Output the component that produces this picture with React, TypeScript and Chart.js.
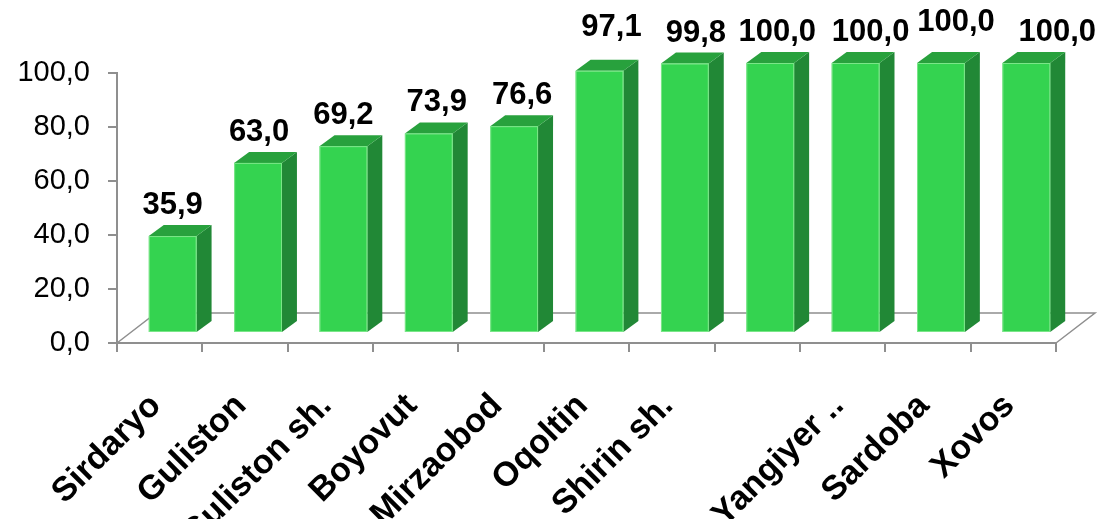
import React, { useEffect, useRef } from 'react';
import { Chart, registerables } from 'chart.js';

Chart.register(...registerables);

// ---- data ----
const categories = ['Sirdaryo', 'Guliston', 'Guliston sh.', 'Boyovut', 'Mirzaobod', 'Oqoltin', 'Shirin sh.', '', 'Yangiyer ..', 'Sardoba', 'Xovos'];
const values = [35.9, 63.0, 69.2, 73.9, 76.6, 97.1, 99.8, 100.0, 100.0, 100.0, 100.0];
const yTickValues = [0, 20, 40, 60, 80, 100];

// ---- style (3D look + label tweaks) ----
const FRONT_DX = 13; // bar front plane shift into depth
const FRONT_DY = 10;
const BAR_DX = 15; // bar depth
const BAR_DY = 11;
const FLOOR_DX = 39; // floor depth
const FLOOR_DY = 30;
const labelDx = [0, 1, 0, 8, 8, 12, 11, 7, 15, 15, 31];
const labelRaise = [0, 0, 0, 0, 0, 13, 0, 0, 0, 10, 0];

const AXIS_COLOR = '#8f8f8f';
const FRONT_COLOR = '#34d350';
const TOP_COLOR = '#28a13d';
const SIDE_COLOR = '#218836';
const FONT = '"Liberation Sans", Arial, sans-serif';

const fmt = (v: number) => v.toFixed(1).replace('.', ',');

const threeDPlugin = {
  id: 'threeD',
  beforeDatasetsDraw(chart: any) {
    const { ctx, chartArea } = chart;
    const { left, right, bottom } = chartArea;
    ctx.save();
    ctx.strokeStyle = AXIS_COLOR;
    ctx.lineWidth = 1.5;
    ctx.beginPath();
    ctx.moveTo(left, bottom);
    ctx.lineTo(left + FLOOR_DX, bottom - FLOOR_DY);
    ctx.lineTo(right + FLOOR_DX, bottom - FLOOR_DY);
    ctx.lineTo(right, bottom);
    ctx.stroke();
    ctx.restore();
  },
  afterDatasetsDraw(chart: any) {
    const { ctx } = chart;
    const meta = chart.getDatasetMeta(0);
    ctx.save();
    meta.data.forEach((bar: any, i: number) => {
      const { x, y, base, width } = bar.getProps(['x', 'y', 'base', 'width'], true);
      const l = x - width / 2 + FRONT_DX;
      const r = x + width / 2 + FRONT_DX;
      const t = y - FRONT_DY;
      const b = base - FRONT_DY;
      // side
      ctx.fillStyle = SIDE_COLOR;
      ctx.beginPath();
      ctx.moveTo(r, t);
      ctx.lineTo(r + BAR_DX, t - BAR_DY);
      ctx.lineTo(r + BAR_DX, b - BAR_DY);
      ctx.lineTo(r, b);
      ctx.closePath();
      ctx.fill();
      // top
      ctx.fillStyle = TOP_COLOR;
      ctx.beginPath();
      ctx.moveTo(l, t);
      ctx.lineTo(l + BAR_DX, t - BAR_DY);
      ctx.lineTo(r + BAR_DX, t - BAR_DY);
      ctx.lineTo(r, t);
      ctx.closePath();
      ctx.fill();
      // front
      ctx.fillStyle = FRONT_COLOR;
      ctx.fillRect(l, t, r - l, b - t);
      ctx.strokeStyle = 'rgba(140,235,150,0.8)';
      ctx.lineWidth = 1;
      ctx.strokeRect(l + 0.5, t + 0.5, r - l - 1, b - t - 1);
      // value label
      const v = values[i];
      ctx.fillStyle = '#000';
      ctx.font = `bold 31px ${FONT}`;
      ctx.textAlign = 'center';
      ctx.textBaseline = 'alphabetic';
      ctx.fillText(fmt(v), (l + r) / 2 + labelDx[i], t - BAR_DY - 11 - labelRaise[i]);
    });
    ctx.restore();
  },
};

export default function App() {
  const ref = useRef<HTMLCanvasElement | null>(null);
  useEffect(() => {
    if (!ref.current) return;
    const chart = new Chart(ref.current, {
      type: 'bar',
      data: {
        labels: categories,
        datasets: [
          {
            data: values,
            backgroundColor: 'rgba(0,0,0,0)',
            borderWidth: 0,
            categoryPercentage: 1,
            barPercentage: 0.56,
          },
        ],
      },
      options: {
        responsive: false,
        animation: false,
        events: [],
        layout: { padding: { top: 73, right: 43, left: 0, bottom: 0 } },
        plugins: { legend: { display: false }, tooltip: { enabled: false } },
        scales: {
          x: {
            grid: { display: true, drawOnChartArea: false, tickLength: 9, color: AXIS_COLOR, lineWidth: 2, offset: true },
            border: { display: true, color: AXIS_COLOR, width: 2 },
            ticks: {
              autoSkip: false,
              maxRotation: 45,
              minRotation: 45,
              color: '#000',
              font: { family: FONT, size: 34, weight: 'bold' },
              padding: 34,
              labelOffset: -4,
            },
            afterFit: (s: any) => {
              s.height = 176;
            },
          },
          y: {
            min: 0,
            max: 100,
            grid: { display: true, drawOnChartArea: false, tickLength: 9, color: AXIS_COLOR, lineWidth: 2 },
            border: { display: true, color: AXIS_COLOR, width: 2 },
            afterBuildTicks: (s: any) => {
              s.ticks = yTickValues.map((v) => ({ value: v }));
            },
            ticks: {
              color: '#000',
              font: { family: FONT, size: 29 },
              padding: 18,
              callback: (v: any) => fmt(Number(v)),
            },
            afterFit: (s: any) => {
              s.width = 117;
            },
          },
        },
      },
      plugins: [threeDPlugin],
    });
    return () => chart.destroy();
  }, []);
  return (
    <div style={{ position: 'absolute', left: 0, top: 0, width: 1099, height: 519, background: '#fff' }}>
      <canvas ref={ref} width={1099} height={519} style={{ display: 'block' }} />
    </div>
  );
}
